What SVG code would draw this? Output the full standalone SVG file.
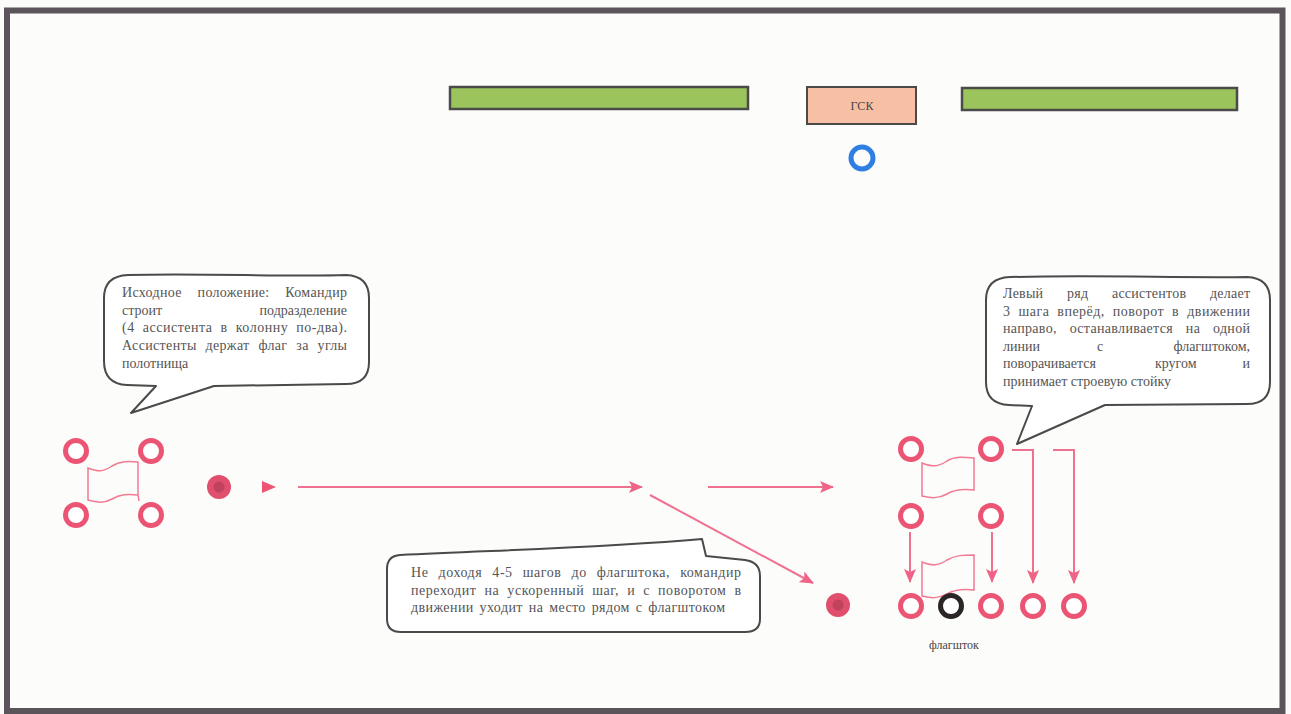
<svg xmlns="http://www.w3.org/2000/svg" width="1291" height="714" viewBox="0 0 1291 714">
<style>
.txt{font-family:"Liberation Serif","Times New Roman",serif;font-size:14px;fill:#555}
.small{font-family:"Liberation Serif","Times New Roman",serif;font-size:12px;fill:#444}
.p{fill:#fff;stroke:#ec5474;stroke-width:5}
.blk{fill:#fff;stroke:#2a2628;stroke-width:5}
.cmd{fill:#e04f6d}
.cmdc{fill:#a83850;opacity:.55}
.flag{fill:none;stroke:#f27a93;stroke-width:1.5}
.bubble{fill:#fff;stroke:#4a4a4a;stroke-width:2;stroke-linejoin:round}
.bar{fill:#9cc45c;stroke:#4a4a48;stroke-width:2.5}
.conn{fill:none;stroke:#f07090;stroke-width:2}
</style>
<defs>
<marker id="ah" markerUnits="userSpaceOnUse" markerWidth="14" markerHeight="12" refX="13" refY="6" orient="auto">
<path d="M0,0 L14,6 L0,12 L3,6 Z" fill="#ef6387"/>
</marker>
</defs>
<rect x="0" y="0" width="1291" height="714" fill="#fbfbf9"/>
<rect id="frame" x="7" y="10.5" width="1275.5" height="700.5" fill="#fcfcfa" stroke="#5b545b" stroke-width="6"/>

<g id="bar-left"><rect class="bar" x="450" y="87" width="298" height="22"/></g>
<g id="bar-right"><rect class="bar" x="962" y="88" width="275" height="22"/></g>
<g id="gsk"><rect x="807" y="87" width="109" height="37" fill="#f7bfa3" stroke="#4a4a48" stroke-width="2"/>
<text class="small" x="862" y="110" text-anchor="middle">ГСК</text></g>
<g id="blue"><circle cx="862" cy="158" r="11" fill="none" stroke="#2f7fe3" stroke-width="5"/></g>

<g id="left-formation">
<path class="flag" d="M88,468 C98,472 103,472 112,466 C120,461 128,461 138,462 L138,495 C128,494 120,494 112,499 C103,504 97,502 88,500 Z M138,495 L139,501"/>
<circle class="p" cx="76" cy="451" r="10.5"/>
<circle class="p" cx="151" cy="451" r="10.5"/>
<circle class="p" cx="76" cy="515" r="10.5"/>
<circle class="p" cx="151" cy="515" r="10.5"/>
</g>
<g id="commander-start"><circle class="cmd" cx="219" cy="487" r="12"/><circle class="cmdc" cx="219" cy="487" r="5.5"/></g>
<g id="start-mark"><polygon points="262,481 276,487 262,493" fill="#ec5474"/></g>

<g id="connectors">
<path class="conn" marker-end="url(#ah)" d="M298,487 L642,487"/>
<path class="conn" marker-end="url(#ah)" d="M708,487 L833,487"/>
<path class="conn" marker-end="url(#ah)" d="M650,495 L813,583"/>
<path class="conn" marker-end="url(#ah)" d="M910,532 L910,582"/>
<path class="conn" marker-end="url(#ah)" d="M992,532 L992,582"/>
<path class="conn" marker-end="url(#ah)" d="M1012,450 L1033,450 L1033,583"/>
<path class="conn" marker-end="url(#ah)" d="M1053,450 L1074,450 L1074,583"/>
</g>

<g id="commander-end"><circle class="cmd" cx="838" cy="605" r="12"/><circle class="cmdc" cx="838" cy="605" r="5.5"/></g>

<g id="right-formation">
<path class="flag" d="M922,463 C932,467 938,467 947,461 C955,456 964,457 974,458 L974,490 C964,489 955,489 947,494 C938,499 931,498 922,496 Z"/>
<path class="flag" d="M922,562 C932,566 938,566 947,560 C955,555 964,555 974,555 L974,590 C964,589 955,589 947,594 C938,599 931,598 922,596 Z"/>
<circle class="p" cx="911" cy="449" r="10.5"/>
<circle class="p" cx="991" cy="449" r="10.5"/>
<circle class="p" cx="911" cy="516" r="10.5"/>
<circle class="p" cx="991" cy="516" r="10.5"/>
<circle class="p" cx="911" cy="606" r="10.5"/>
<circle class="p" cx="991" cy="606" r="10.5"/>
<circle class="p" cx="1033" cy="606" r="10.5"/>
<circle class="p" cx="1074" cy="606" r="10.5"/>
</g>
<g id="flagpole"><circle class="blk" cx="951" cy="606" r="10.5"/>
<text class="small" x="954" y="649" text-anchor="middle">флагшток</text></g>

<g id="callout-1">
<path class="bubble" d="M128,275 C200,273 290,277 346,275 Q369,276 369,298 L369,362 Q369,384 346,384 L214,386 L131,413 L156,386 L127,385 Q104,384 104,361 L104,298 Q104,276 128,275 Z"/>
<text class="txt" x="122" y="297" textLength="225" lengthAdjust="spacing" style="word-spacing:12px">Исходное положение: Командир</text>
<text class="txt" x="122" y="315">строит</text>
<text class="txt" x="347" y="315" text-anchor="end">подразделение</text>
<text class="txt" x="122" y="332" textLength="225" lengthAdjust="spacing" style="word-spacing:4px">(4 ассистента в колонну по-два).</text>
<text class="txt" x="122" y="350" textLength="225" lengthAdjust="spacing" style="word-spacing:5px">Ассистенты держат флаг за углы</text>
<text class="txt" x="122" y="368">полотнища</text>
</g>

<g id="callout-2">
<path class="bubble" d="M1010,277 C1100,275 1180,278 1247,277 Q1270,278 1270,300 L1270,382 Q1270,404 1247,404 L1105,405 L1017,444 L1032,406 L1009,405 Q986,404 986,382 L986,300 Q986,278 1010,277 Z"/>
<text class="txt" x="1003" y="298" textLength="247" lengthAdjust="spacing" style="word-spacing:20px">Левый ряд ассистентов делает</text>
<text class="txt" x="1003" y="316" textLength="247" lengthAdjust="spacing" style="word-spacing:4px">3 шага вперёд, поворот в движении</text>
<text class="txt" x="1003" y="333" textLength="247" lengthAdjust="spacing" style="word-spacing:9px">направо, останавливается на одной</text>
<text class="txt" y="351"><tspan x="1003">линии</tspan><tspan x="1097">с</tspan></text>
<text class="txt" x="1250" y="351" text-anchor="end">флагштоком,</text>
<text class="txt" y="368"><tspan x="1003">поворачивается</tspan><tspan x="1155">кругом</tspan></text>
<text class="txt" x="1250" y="368" text-anchor="end">и</text>
<text class="txt" x="1003" y="386">принимает строевую стойку</text>
</g>

<g id="callout-3">
<path class="bubble" d="M400,555 C500,550 600,548 702,539 L706,556 L745,560 Q760,562 760,576 L760,619 Q760,632 745,632 L401,632 Q387,632 387,619 L387,569 Q387,556 400,555 Z"/>
<text class="txt" x="411" y="577" textLength="330" lengthAdjust="spacing" style="word-spacing:6px">Не доходя 4-5 шагов до флагштока, командир</text>
<text class="txt" x="411" y="595" textLength="330" lengthAdjust="spacing" style="word-spacing:4px">переходит на ускоренный шаг, и с поворотом в</text>
<text class="txt" x="411" y="612" textLength="314" lengthAdjust="spacing" style="word-spacing:2px">движении уходит на место рядом с флагштоком</text>
</g>
</svg>
